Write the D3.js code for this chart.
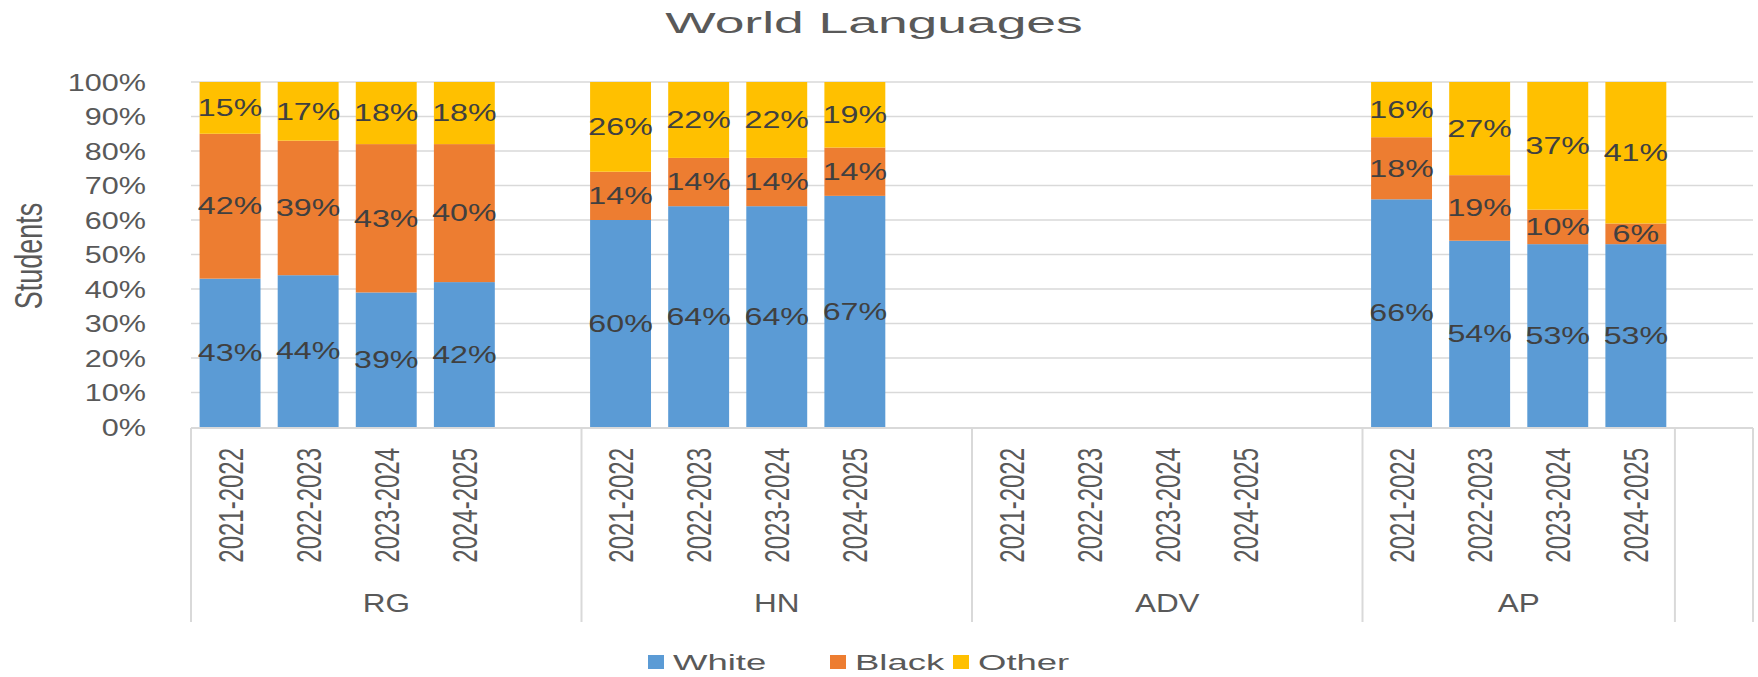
<!DOCTYPE html>
<html>
<head>
<meta charset="utf-8">
<script src="https://cdn.jsdelivr.net/npm/d3@7"></script>
<style>
  html, body { margin: 0; padding: 0; background: #ffffff; }
  svg { display: block; }
  text { font-family: "Liberation Sans", Arial, sans-serif; }
</style>
</head>
<body>
<svg id="chart" width="1758" height="677"></svg>
<script>
// Course levels (outer axis) and school years (inner axis)
const levels = ["RG", "HN", "ADV", "AP"];
const years = ["2021-2022", "2022-2023", "2023-2024", "2024-2025"];
const seriesNames = ["White", "Black", "Other"];
const seriesColors = ["#5B9BD5", "#ED7D31", "#FFC000"];
const yTicks = [0, 10, 20, 30, 40, 50, 60, 70, 80, 90, 100];

// Share of students (%) per level, one entry per year; ADV has no enrolment
const white = { RG: [43, 44, 39, 42], HN: [60, 64, 64, 67], ADV: [null, null, null, null], AP: [66, 54, 53, 53] };
const black = { RG: [42, 39, 43, 40], HN: [14, 14, 14, 14], ADV: [null, null, null, null], AP: [18, 19, 10, 6] };
const other = { RG: [15, 17, 18, 18], HN: [26, 22, 22, 19], ADV: [null, null, null, null], AP: [16, 27, 37, 41] };

// Rows of the source sheet: each level is followed by a blank row,
// the blank row after AP forms its own unlabeled group
const groups = [
  { name: "RG", rows: [...years, ""] },
  { name: "HN", rows: [...years, ""] },
  { name: "ADV", rows: [...years, ""] },
  { name: "AP", rows: [...years] },
  { name: "", rows: [""] }
];

const slots = [];
groups.forEach((g, gi) => g.rows.forEach((r, ri) => slots.push({ key: gi + "|" + ri, group: g.name, year: r })));

const svg = d3.select("#chart");
const plot = { left: 191, right: 1753, top: 82, bottom: 427 };

const x = d3.scaleBand().domain(slots.map(s => s.key))
  .range([plot.left, plot.right]).paddingInner(0.22).paddingOuter(0.11);
const y = d3.scaleLinear().domain([0, 100]).range([plot.bottom, plot.top]);

const gray = "#595959";
const grid = "#D9D9D9";

// Title
svg.append("text")
  .attr("transform", `translate(874,33) scale(1.78,1)`)
  .attr("text-anchor", "middle")
  .attr("font-size", 30)
  .attr("fill", gray)
  .text("World Languages");

// Horizontal gridlines
svg.append("g").selectAll("line").data(yTicks.filter(t => t > 0)).join("line")
  .attr("x1", plot.left).attr("x2", plot.right)
  .attr("y1", d => y(d)).attr("y2", d => y(d))
  .attr("stroke", grid).attr("stroke-width", 1.6);

// Y axis tick labels
const yAxis = d3.axisLeft(y).tickValues(yTicks).tickFormat(d => d + "%").tickSize(0).tickPadding(0);
const yg = svg.append("g").attr("transform", `translate(146,0)`).call(yAxis);
yg.select(".domain").remove();
yg.selectAll("text")
  .attr("x", null)
  .attr("transform", "scale(1.33,1)")
  .attr("dy", "0.36em")
  .attr("font-size", 23)
  .attr("font-family", "Liberation Sans, Arial, sans-serif")
  .attr("fill", gray);

// Y axis title
svg.append("text")
  .attr("transform", "translate(28,256) rotate(-90) scale(1,1.45)")
  .attr("text-anchor", "middle")
  .attr("dy", "0.36em")
  .attr("font-size", 27)
  .attr("fill", gray)
  .text("Students");

// Stacked bars
const rows = [];
levels.forEach(lv => years.forEach((yr, i) => {
  const vals = [white[lv][i], black[lv][i], other[lv][i]];
  if (vals[0] == null) return;
  rows.push({ key: groups.findIndex(g => g.name === lv) + "|" + i, vals });
}));

const segs = [];
rows.forEach(r => {
  let acc = 0;
  r.vals.forEach((v, si) => {
    segs.push({ key: r.key, si, v, y0: acc, y1: acc + v });
    acc += v;
  });
});

svg.append("g").selectAll("rect").data(segs).join("rect")
  .attr("x", d => x(d.key))
  .attr("width", x.bandwidth())
  .attr("y", d => y(d.y1))
  .attr("height", d => y(d.y0) - y(d.y1))
  .attr("fill", d => seriesColors[d.si]);

// Value labels centred in each segment
svg.append("g").selectAll("text").data(segs).join("text")
  .attr("transform", d => `translate(${x(d.key) + x.bandwidth() / 2},${y((d.y0 + d.y1) / 2)}) scale(1.4,1)`)
  .attr("text-anchor", "middle")
  .attr("dy", "0.36em")
  .attr("font-size", 23)
  .attr("fill", "#404040")
  .text(d => d.v + "%");

// Category axis line
svg.append("line")
  .attr("x1", plot.left).attr("x2", plot.right)
  .attr("y1", plot.bottom + 1).attr("y2", plot.bottom + 1)
  .attr("stroke", grid).attr("stroke-width", 2);

// Group separators
const sepY2 = 622;
const bounds = groups.map((g, gi) => x(gi + "|0") - x.step() * x.paddingInner() / 2);
bounds.push(plot.right);
svg.append("g").selectAll("line").data(bounds).join("line")
  .attr("x1", d => d).attr("x2", d => d)
  .attr("y1", plot.bottom + 1).attr("y2", sepY2)
  .attr("stroke", grid).attr("stroke-width", 2);

// Inner (year) labels
svg.append("g").selectAll("text").data(slots.filter(s => s.year)).join("text")
  .attr("transform", d => `translate(${x(d.key) + x.bandwidth() / 2},448) rotate(-90) scale(1,1.45)`)
  .attr("text-anchor", "end")
  .attr("dy", "0.36em")
  .attr("font-size", 24)
  .attr("fill", gray)
  .text(d => d.year);

// Outer (level) labels
svg.append("g").selectAll("text").data(groups.filter(g => g.name)).join("text")
  .attr("transform", (g, i) => `translate(${(bounds[i] + bounds[i + 1]) / 2},612) scale(1.26,1)`)
  .attr("text-anchor", "middle")
  .attr("font-size", 25)
  .attr("fill", gray)
  .text(g => g.name);

// Legend
const legendX = [648, 830, 953];
const lg = svg.append("g").selectAll("g").data(seriesNames).join("g")
  .attr("transform", (d, i) => `translate(${legendX[i]},662)`);
lg.append("rect").attr("x", 0).attr("y", -7).attr("width", 16).attr("height", 14)
  .attr("fill", (d, i) => seriesColors[i]);
lg.append("text")
  .attr("transform", "translate(25,0) scale(1.66,1)")
  .attr("dy", "0.36em")
  .attr("font-size", 22)
  .attr("fill", gray)
  .text(d => d);
</script>
</body>
</html>
